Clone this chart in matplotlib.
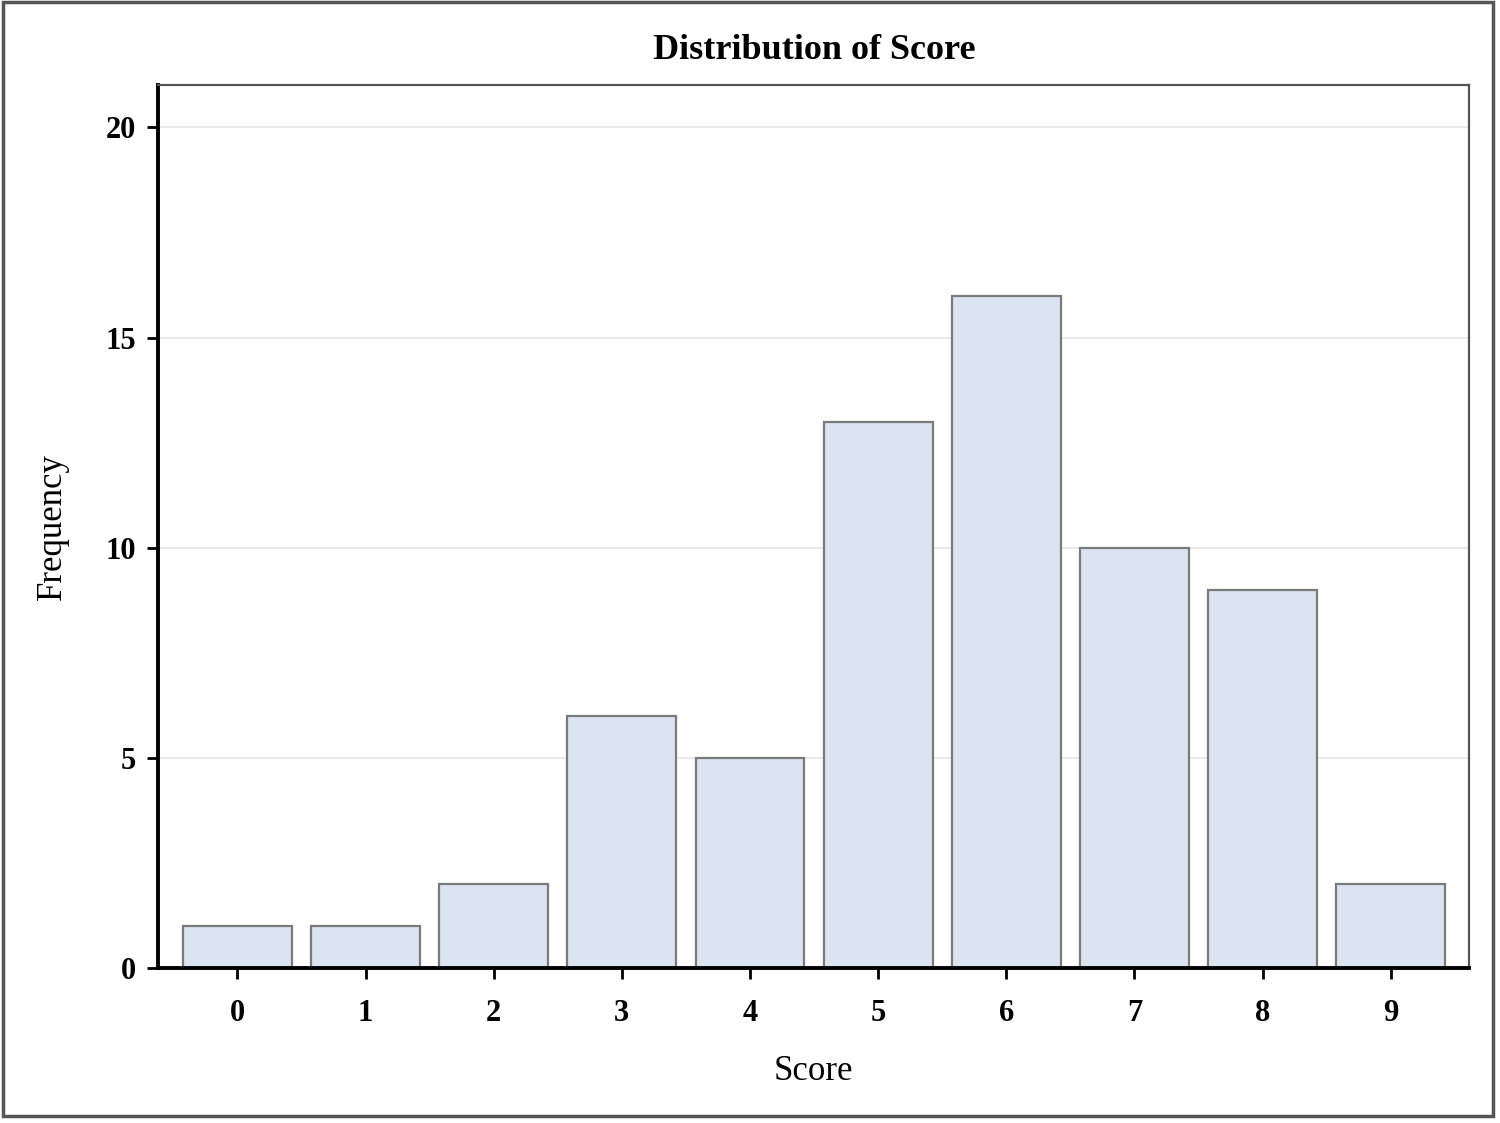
import matplotlib
matplotlib.use("Agg")
import matplotlib.pyplot as plt
from matplotlib.patches import Rectangle

# Data
scores = [0, 1, 2, 3, 4, 5, 6, 7, 8, 9]
frequency = [1, 1, 2, 6, 5, 13, 16, 10, 9, 2]
y_ticks = [0, 5, 10, 15, 20]

plt.rcParams['font.family'] = ['Liberation Serif', 'DejaVu Serif']

fig = plt.figure(figsize=(15, 11.23), dpi=100)
ax = fig.add_axes([0.1053, 0.138, 0.874, 0.786])

# Light gridlines behind the bars
ax.set_axisbelow(True)
ax.yaxis.grid(True, color='#e6e6e6', linewidth=1.2)

ax.bar(scores, frequency, width=0.85, color='#dbe5f2', edgecolor='#7a7a7a', linewidth=1.6)

ax.set_xlim(-0.62, 9.61)
ax.set_ylim(0, 21)
ax.set_xticks(scores)
ax.set_yticks(y_ticks)
ax.tick_params(axis='both', direction='out', length=8, width=2, labelsize=22)
ax.tick_params(axis='x', pad=14)
ax.tick_params(axis='y', pad=8)
for lab in ax.get_xticklabels() + ax.get_yticklabels():
    lab.set_fontweight('bold')

for side in ['left', 'bottom']:
    ax.spines[side].set_linewidth(2.8)
    ax.spines[side].set_color('black')
for side in ['top', 'right']:
    ax.spines[side].set_linewidth(1.6)
    ax.spines[side].set_color('#555555')

ax.set_xlabel('Score', fontsize=25, labelpad=20)
ax.set_ylabel('Frequency', fontsize=25, labelpad=26)
fig.text(0.543, 0.955, 'Distribution of Score', ha='center', va='center',
         fontsize=26, fontweight='bold')

# Outer frame around the whole graphic
fig.patches.append(Rectangle((0.002, 0.006), 0.993, 0.992, transform=fig.transFigure,
                             fill=False, edgecolor='#555555', linewidth=2.5))

fig.savefig('out.png', dpi=100)
